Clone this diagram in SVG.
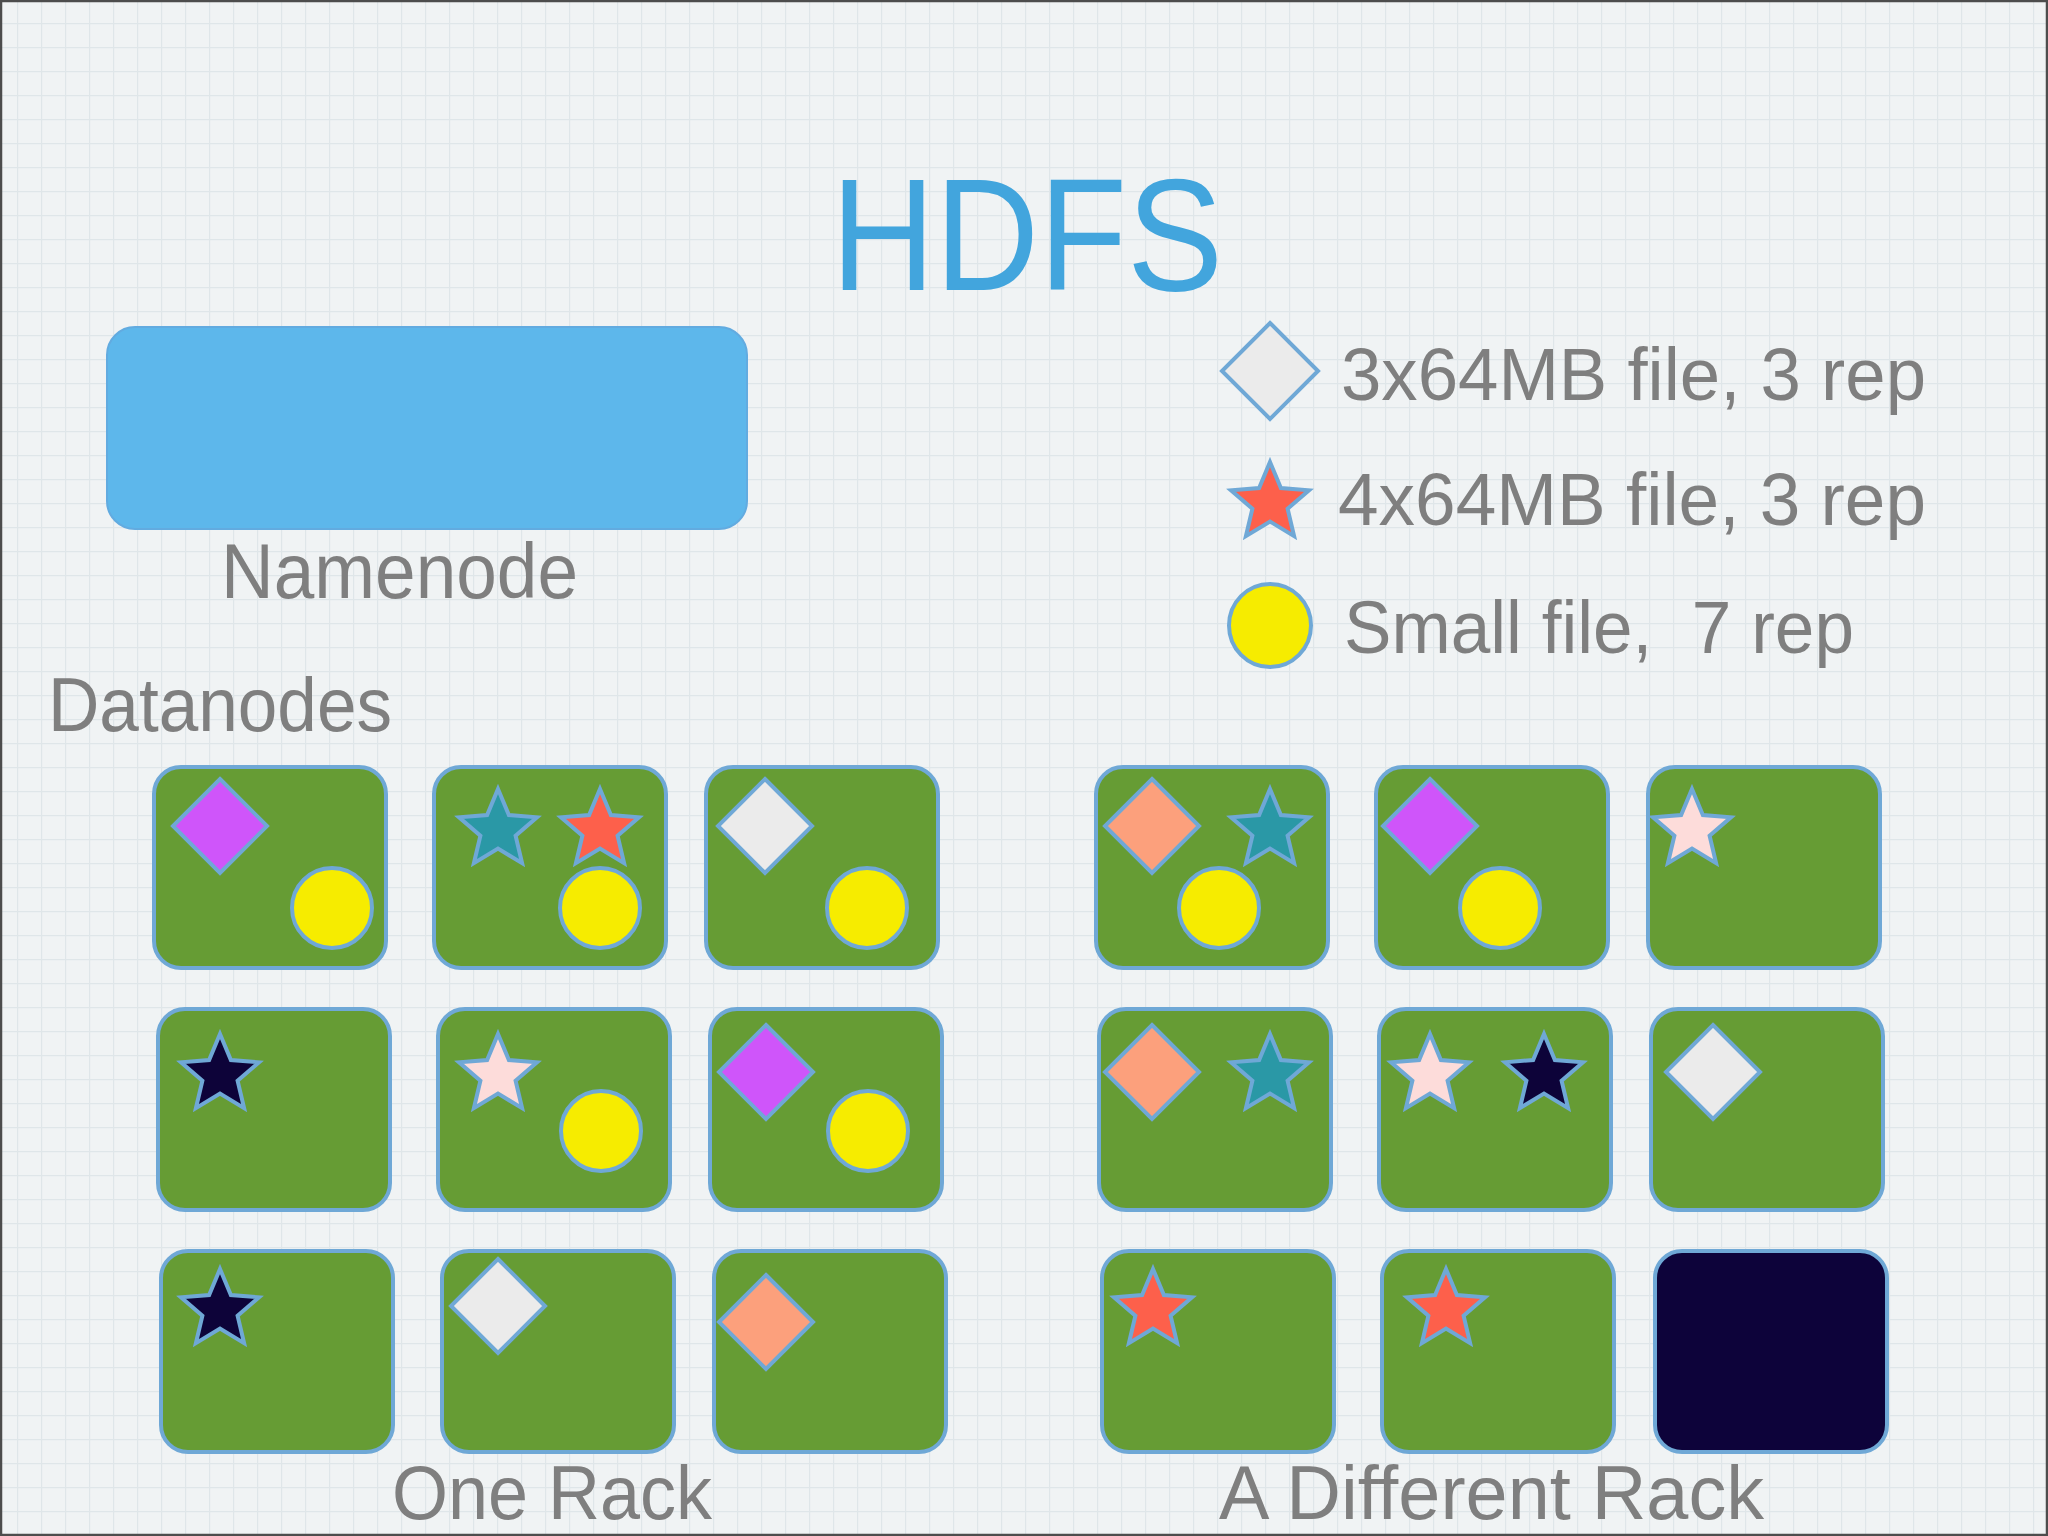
<svg xmlns="http://www.w3.org/2000/svg" xmlns:xlink="http://www.w3.org/1999/xlink" width="2048" height="1536" viewBox="0 0 2048 1536">
<style>
.txt{font-family:"Liberation Sans","DejaVu Sans",sans-serif;fill:#7f7f7f;white-space:pre}
.title{font-family:"Liberation Sans","DejaVu Sans",sans-serif;fill:#42a5dd}
.dn{fill:#669c34;stroke:#6fa8d6;stroke-width:4}
.dn-dark{fill:#0d033a;stroke:#6fa8d6;stroke-width:4}
.sh{stroke:#6fa8d6;stroke-width:4;stroke-linejoin:miter}
.purple{fill:#cf55fa}
.yellow{fill:#f6ec00}
.teal{fill:#2a98a6}
.red{fill:#fd604b}
.white{fill:#ebebeb}
.salmon{fill:#fca07c}
.pink{fill:#fddcda}
.navy{fill:#0d0339}
</style>
<defs>
<pattern id="grid" width="24" height="24" patternUnits="userSpaceOnUse" x="17" y="23">
<path d="M0 0.6H24M0.6 0V24" stroke="#dfe6e9" stroke-width="1.2" fill="none"/>
</pattern>
<path id="star" d="M0,-41 L10.88,-14.97 L38.99,-12.67 L17.6,5.72 L24.1,33.17 L0,18.5 L-24.1,33.17 L-17.6,5.72 L-38.99,-12.67 L-10.88,-14.97 Z"/>
<path id="diamond" d="M0,-47 L47,0 L0,47 L-47,0 Z"/>
<circle id="dot" cx="0" cy="0" r="40"/>
</defs>

<rect width="2048" height="1536" fill="#f0f3f4"/>
<rect width="2048" height="1536" fill="url(#grid)"/>
<rect x="1" y="1" width="2046" height="1534" fill="none" stroke="#4d4d4d" stroke-width="2.5"/>

<text class="title" x="831" y="290" font-size="160" textLength="392" lengthAdjust="spacingAndGlyphs">HDFS</text>

<g id="namenode">
<rect x="107" y="327" width="640" height="202" rx="28" fill="#5db7eb" stroke="#62abe0" stroke-width="2"/>
<text class="txt" x="221" y="598" font-size="77" textLength="357" lengthAdjust="spacingAndGlyphs">Namenode</text>
</g>

<g id="legend">
<g id="legend-diamond">
<path d="M1270,323 L1318,371 L1270,419 L1222,371 Z" class="sh white"/>
<text class="txt" x="1341" y="400" font-size="75" textLength="585" lengthAdjust="spacingAndGlyphs">3x64MB file, 3 rep</text>
</g>
<g id="legend-star">
<use xlink:href="#star" x="1270" y="503" class="sh red"/>
<text class="txt" x="1338" y="525" font-size="75" textLength="588" lengthAdjust="spacingAndGlyphs">4x64MB file, 3 rep</text>
</g>
<g id="legend-circle">
<ellipse cx="1270" cy="625.5" rx="41" ry="41.5" class="sh yellow"/>
<text class="txt" x="1344" y="653" font-size="75" textLength="510" lengthAdjust="spacingAndGlyphs">Small file,  7 rep</text>
</g>
</g>

<text class="txt" x="48" y="731" font-size="76" textLength="344" lengthAdjust="spacingAndGlyphs">Datanodes</text>

<g id="connectors"/>

<!-- Row 1 -->
<g id="dn-r1-c1">
<rect class="dn" x="154" y="767" width="232" height="201" rx="27"/>
<use xlink:href="#diamond" x="220" y="826" class="sh purple"/>
<use xlink:href="#dot" x="332" y="908" class="sh yellow"/>
</g>
<g id="dn-r1-c2">
<rect class="dn" x="434" y="767" width="232" height="201" rx="27"/>
<use xlink:href="#star" x="498" y="830" class="sh teal"/>
<use xlink:href="#star" x="600" y="830" class="sh red"/>
<use xlink:href="#dot" x="600" y="908" class="sh yellow"/>
</g>
<g id="dn-r1-c3">
<rect class="dn" x="706" y="767" width="232" height="201" rx="27"/>
<use xlink:href="#diamond" x="765" y="826" class="sh white"/>
<use xlink:href="#dot" x="867" y="908" class="sh yellow"/>
</g>
<g id="dn-r1-c4">
<rect class="dn" x="1096" y="767" width="232" height="201" rx="27"/>
<use xlink:href="#diamond" x="1152" y="826" class="sh salmon"/>
<use xlink:href="#star" x="1270" y="830" class="sh teal"/>
<use xlink:href="#dot" x="1219" y="908" class="sh yellow"/>
</g>
<g id="dn-r1-c5">
<rect class="dn" x="1376" y="767" width="232" height="201" rx="27"/>
<use xlink:href="#diamond" x="1430" y="826" class="sh purple"/>
<use xlink:href="#dot" x="1500" y="908" class="sh yellow"/>
</g>
<g id="dn-r1-c6">
<rect class="dn" x="1648" y="767" width="232" height="201" rx="27"/>
<use xlink:href="#star" x="1692" y="830" class="sh pink"/>
</g>

<!-- Row 2 -->
<g id="dn-r2-c1">
<rect class="dn" x="158" y="1009" width="232" height="201" rx="27"/>
<use xlink:href="#star" x="220" y="1075" class="sh navy"/>
</g>
<g id="dn-r2-c2">
<rect class="dn" x="438" y="1009" width="232" height="201" rx="27"/>
<use xlink:href="#star" x="498" y="1075" class="sh pink"/>
<use xlink:href="#dot" x="601" y="1131" class="sh yellow"/>
</g>
<g id="dn-r2-c3">
<rect class="dn" x="710" y="1009" width="232" height="201" rx="27"/>
<use xlink:href="#diamond" x="766" y="1072" class="sh purple"/>
<use xlink:href="#dot" x="868" y="1131" class="sh yellow"/>
</g>
<g id="dn-r2-c4">
<rect class="dn" x="1099" y="1009" width="232" height="201" rx="27"/>
<use xlink:href="#diamond" x="1152" y="1072" class="sh salmon"/>
<use xlink:href="#star" x="1270" y="1075" class="sh teal"/>
</g>
<g id="dn-r2-c5">
<rect class="dn" x="1379" y="1009" width="232" height="201" rx="27"/>
<use xlink:href="#star" x="1430" y="1075" class="sh pink"/>
<use xlink:href="#star" x="1544" y="1075" class="sh navy"/>
</g>
<g id="dn-r2-c6">
<rect class="dn" x="1651" y="1009" width="232" height="201" rx="27"/>
<use xlink:href="#diamond" x="1713" y="1072" class="sh white"/>
</g>

<!-- Row 3 -->
<g id="dn-r3-c1">
<rect class="dn" x="161" y="1251" width="232" height="201" rx="27"/>
<use xlink:href="#star" x="220" y="1310" class="sh navy"/>
</g>
<g id="dn-r3-c2">
<rect class="dn" x="442" y="1251" width="232" height="201" rx="27"/>
<use xlink:href="#diamond" x="498" y="1306" class="sh white"/>
</g>
<g id="dn-r3-c3">
<rect class="dn" x="714" y="1251" width="232" height="201" rx="27"/>
<use xlink:href="#diamond" x="766" y="1322" class="sh salmon"/>
</g>
<g id="dn-r3-c4">
<rect class="dn" x="1102" y="1251" width="232" height="201" rx="27"/>
<use xlink:href="#star" x="1153" y="1310" class="sh red"/>
</g>
<g id="dn-r3-c5">
<rect class="dn" x="1382" y="1251" width="232" height="201" rx="27"/>
<use xlink:href="#star" x="1446" y="1310" class="sh red"/>
</g>
<g id="dn-r3-c6">
<rect class="dn-dark" x="1655" y="1251" width="232" height="201" rx="27"/>
</g>

<text class="txt" x="392" y="1519" font-size="76" textLength="320" lengthAdjust="spacingAndGlyphs">One Rack</text>
<text class="txt" x="1219" y="1519" font-size="76" textLength="545" lengthAdjust="spacingAndGlyphs">A Different Rack</text>
</svg>
